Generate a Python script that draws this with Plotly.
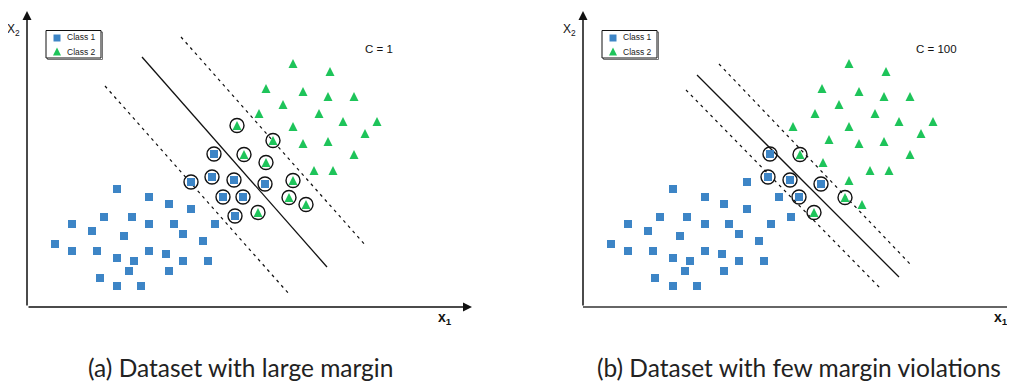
import plotly.graph_objects as go

# ---------------- data (local coords: origin at axes corner, y up, 1 unit = 1 px) -------------
# Panel (a): C = 1
a_class1_x = [90, 122, 142, 164, 45, 77, 105, 122, 147, 188, 65, 97, 156, 176, 28, 45, 70, 122, 139, 90, 107, 156, 181, 102, 142, 73, 90, 114]
a_class1_y = [118, 110, 103, 98, 83, 90, 90, 83, 83, 83, 76, 71, 73, 66, 63, 56, 56, 56, 53, 49, 46, 46, 46, 36, 36, 29, 21, 21]
a_sv1_x = [187, 164, 185, 207, 196, 216, 238, 208]
a_sv1_y = [153, 125, 130, 127, 110, 110, 123, 91]
a_class2_x = [266, 303, 239, 276, 301, 327, 256, 232, 292, 316, 350, 266, 338, 276, 301, 327, 287, 306]
a_class2_y = [248, 240, 223, 220, 215, 215, 207, 198, 198, 190, 190, 185, 178, 168, 170, 157, 141, 141]
a_sv2_x = [210, 246, 217, 239, 266, 262, 279, 231]
a_sv2_y = [186, 171, 157, 149, 131, 114, 107, 99]
a_hyper = {"x": [115, 300], "y": [250, 40]}
a_upper = {"x": [154, 339], "y": [270, 61]}
a_lower = {"x": [78, 262], "y": [221, 13]}

# Panel (b): C = 100
b_class1_x = [90, 122, 141, 164, 164, 45, 77, 104, 122, 146, 188, 196, 208, 65, 97, 156, 176, 28, 45, 70, 122, 139, 90, 107, 156, 181, 102, 141, 72, 90, 114]
b_class1_y = [118, 110, 103, 125, 98, 83, 90, 90, 83, 83, 83, 110, 90, 76, 71, 73, 66, 63, 56, 56, 56, 53, 49, 46, 46, 46, 36, 36, 29, 21, 21]
b_sv1_x = [187, 185, 207, 216, 238]
b_sv1_y = [153, 130, 127, 110, 123]
b_class2_x = [266, 303, 239, 276, 301, 327, 256, 232, 292, 316, 350, 266, 210, 338, 246, 276, 301, 327, 240, 287, 306, 266, 279]
b_class2_y = [248, 240, 223, 220, 215, 215, 207, 198, 198, 190, 190, 185, 185, 178, 172, 168, 170, 157, 149, 141, 141, 131, 107]
b_sv2_x = [217, 262, 231]
b_sv2_y = [157, 114, 99]
b_hyper = {"x": [114, 316], "y": [232, 30]}
b_upper = {"x": [136, 328], "y": [243, 42]}
b_lower = {"x": [103, 297], "y": [217, 19]}

legend_labels = ["Class 1", "Class 2"]
c_labels = ["C = 1", "C = 100"]
captions = ["(a) Dataset with large margin", "(b) Dataset with few margin violations"]

# ---------------- styling -------------
PAGE_W, PAGE_H = 1015, 385
BODY = 8                      # default page body margin around the figure div
W, H = PAGE_W - BODY, PAGE_H - BODY
BLUE = "#3d85c6"
GREEN = "#1ec45a"
TRI_SIZE = 9
SQ_SIZE = 8
CIRC_SIZE = 14

# axes corners in page pixels
OX = [27, 583]
OY = 307
SPLIT = 511.5                 # page x where the two subplot domains meet
split_frac = (SPLIT - BODY) / W

fig = go.Figure()

panels = [
    dict(c1x=a_class1_x, c1y=a_class1_y, s1x=a_sv1_x, s1y=a_sv1_y,
         c2x=a_class2_x, c2y=a_class2_y, s2x=a_sv2_x, s2y=a_sv2_y,
         hyp=a_hyper, up=a_upper, lo=a_lower, c=c_labels[0], cap=captions[0]),
    dict(c1x=b_class1_x, c1y=b_class1_y, s1x=b_sv1_x, s1y=b_sv1_y,
         c2x=b_class2_x, c2y=b_class2_y, s2x=b_sv2_x, s2y=b_sv2_y,
         hyp=b_hyper, up=b_upper, lo=b_lower, c=c_labels[1], cap=captions[1]),
]

annotations = []
shapes = []

for i, p in enumerate(panels):
    xa = "x" if i == 0 else "x2"
    ya = "y" if i == 0 else "y2"
    # lines
    fig.add_trace(go.Scatter(x=p["hyp"]["x"], y=p["hyp"]["y"], mode="lines",
                             line=dict(color="#111", width=1.3), xaxis=xa, yaxis=ya, showlegend=False))
    for key in ("up", "lo"):
        fig.add_trace(go.Scatter(x=p[key]["x"], y=p[key]["y"], mode="lines",
                                 line=dict(color="#111", width=1.2, dash="3px,4px"),
                                 xaxis=xa, yaxis=ya, showlegend=False))
    # class 1 squares
    fig.add_trace(go.Scatter(x=p["c1x"] + p["s1x"], y=p["c1y"] + p["s1y"], mode="markers",
                             marker=dict(symbol="square", size=SQ_SIZE, color=BLUE, line=dict(width=0)),
                             xaxis=xa, yaxis=ya, showlegend=False))
    # class 2 triangles (apex at data point)
    fig.add_trace(go.Scatter(x=p["c2x"] + p["s2x"], y=p["c2y"] + p["s2y"], mode="markers",
                             marker=dict(symbol="arrow-up", size=TRI_SIZE, color=GREEN, line=dict(width=0)),
                             xaxis=xa, yaxis=ya, showlegend=False))
    # support vector circles
    fig.add_trace(go.Scatter(x=p["s1x"], y=p["s1y"], mode="markers",
                             marker=dict(symbol="circle", size=CIRC_SIZE, color="rgba(0,0,0,0)",
                                         line=dict(width=1.4, color="#111")),
                             xaxis=xa, yaxis=ya, showlegend=False))
    fig.add_trace(go.Scatter(x=p["s2x"], y=p["s2y"], mode="markers",
                             marker=dict(symbol="circle", size=CIRC_SIZE, color="rgba(0,0,0,0)",
                                         standoff=TRI_SIZE / 2,
                                         line=dict(width=1.4, color="#111")),
                             xaxis=xa, yaxis=ya, showlegend=False))
    # legend box (below traces)
    shapes.append(dict(type="rect", xref=xa, yref=ya, x0=20.5, x1=75.5, y0=247.5, y1=275, layer="below",
                       line=dict(color="#777", width=1), fillcolor="rgba(0,0,0,0)"))
    shapes.append(dict(type="rect", xref=xa, yref=ya, x0=19, x1=74, y0=249, y1=276.5, layer="below",
                       line=dict(color="#111", width=1), fillcolor="white"))
    fig.add_trace(go.Scatter(x=[30], y=[269], mode="markers",
                             marker=dict(symbol="square", size=7, color=BLUE, line=dict(width=0)),
                             xaxis=xa, yaxis=ya, showlegend=False))
    fig.add_trace(go.Scatter(x=[30], y=[259.5], mode="markers",
                             marker=dict(symbol="arrow-up", size=8, color=GREEN, line=dict(width=0)),
                             xaxis=xa, yaxis=ya, showlegend=False))
    for lbl, yy in zip(legend_labels, [270, 255]):
        annotations.append(dict(x=38, y=yy, xref=xa, yref=ya, text=lbl, showarrow=False,
                                xanchor="left", yanchor="middle",
                                font=dict(family="Liberation Sans, Arial", size=8.5, color="#222")))
    # C label
    annotations.append(dict(x=352 if i == 0 else 353, y=258, xref=xa, yref=ya, text=p["c"], showarrow=False,
                            xanchor="center", yanchor="middle",
                            font=dict(family="Liberation Sans, Arial", size=11.5, color="#111")))
    # axes: y axis with arrow
    annotations.append(dict(x=0, y=296, ax=0, ay=0, xref=xa, yref=ya, axref=xa, ayref=ya,
                            text="", showarrow=True, arrowhead=2, arrowsize=1.2, arrowwidth=1.5,
                            arrowcolor="#111"))
    if i == 0:
        annotations.append(dict(x=445, y=0, ax=0, ay=0, xref=xa, yref=ya, axref=xa, ayref=ya,
                                text="", showarrow=True, arrowhead=2, arrowsize=1.2, arrowwidth=1.5,
                                arrowcolor="#111"))
    else:
        shapes.append(dict(type="line", xref=xa, yref=ya, x0=0, x1=440, y0=0, y1=0,
                           line=dict(color="#333", width=1.5)))
    # axis labels
    annotations.append(dict(x=-14, y=277, xref=xa, yref=ya, text="X<sub>2</sub>", showarrow=False,
                            xanchor="center", yanchor="middle",
                            font=dict(family="Liberation Sans, Arial", size=12, color="#111")))
    annotations.append(dict(x=418, y=-11, xref=xa, yref=ya, text="<b>x<sub>1</sub></b>", showarrow=False,
                            xanchor="center", yanchor="middle",
                            font=dict(family="Liberation Sans, Arial", size=14, color="#111")))
    # caption (page pixel centre -> paper fraction)
    cx = 240 if i == 0 else 798.5
    cy = 367
    annotations.append(dict(x=(cx - BODY) / W, y=1 - (cy - BODY) / H, xref="paper", yref="paper",
                            text=p["cap"], showarrow=False, xanchor="center", yanchor="middle",
                            font=dict(family="Lato", size=24.5, color="#222")))

ax_common = dict(showgrid=False, zeroline=False, showline=False, showticklabels=False, ticks="")
fig.update_layout(
    width=W, height=H,
    margin=dict(l=0, r=0, t=0, b=0),
    paper_bgcolor="white", plot_bgcolor="white",
    xaxis=dict(domain=[0, split_frac], range=[BODY - OX[0], SPLIT - OX[0]], **ax_common),
    xaxis2=dict(domain=[split_frac, 1], range=[SPLIT - OX[1], PAGE_W - OX[1]], **ax_common),
    yaxis=dict(domain=[0, 1], range=[OY - PAGE_H, OY - BODY], **ax_common),
    yaxis2=dict(domain=[0, 1], range=[OY - PAGE_H, OY - BODY], anchor="x2", **ax_common),
    annotations=annotations,
    shapes=shapes,
    showlegend=False,
)
for tr in fig.data:
    tr.cliponaxis = False

fig.write_html("out.html")
